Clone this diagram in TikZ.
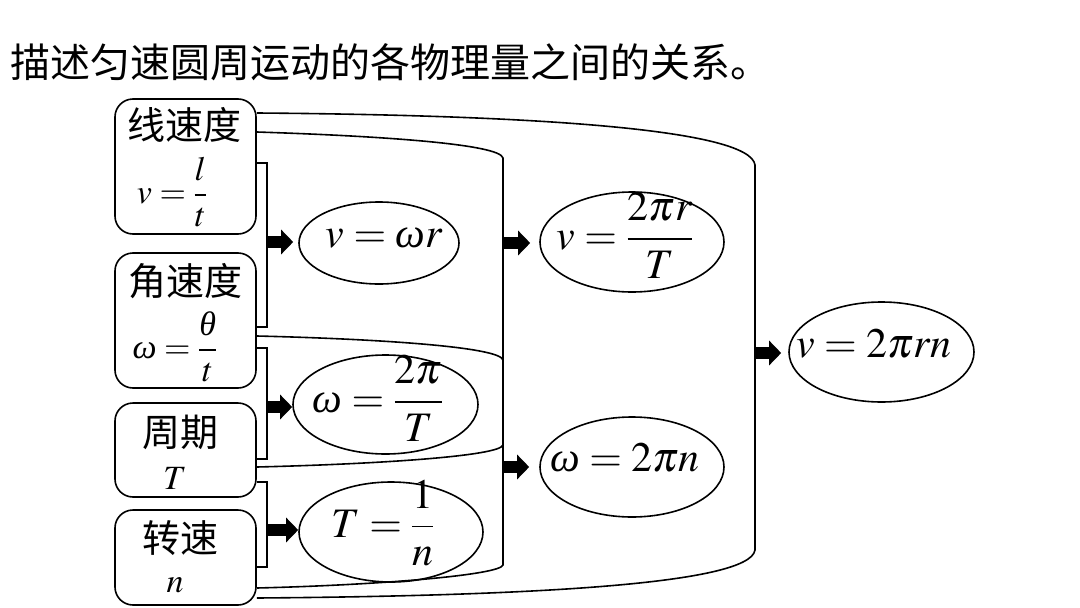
\documentclass[tikz,border=0pt]{standalone}
\usepackage{amsmath}
\usepackage{mathptmx}
\usepackage[no-math]{fontspec}
\setmainfont{Liberation Serif}
\newfontfamily\cjk{Noto Sans CJK SC}
\newcommand{\itom}{\mathord{\text{\itshape ω}}}
\newcommand{\itth}{\mathord{\text{\itshape θ}}}
\usetikzlibrary{shapes.geometric,arrows.meta}
\tikzset{
  ln/.style={line width=1.6pt},
  qbox/.style={draw, line width=1.6pt, rounded corners=18pt, minimum width=141pt, inner sep=0pt},
  ell/.style={draw, ellipse, line width=1.6pt, inner sep=0pt},
  fat/.style={line width=12pt, -{Triangle[length=12pt,width=24pt]}},
  zh/.style={font=\cjk\fontsize{38}{40}\selectfont, inner sep=0pt},
  bf/.style={font=\fontsize{34}{40}\selectfont, inner sep=0pt},
  ef/.style={font=\fontsize{42}{50}\selectfont, inner sep=0pt},
}
\begin{document}
\begin{tikzpicture}[x=1pt,y=-1pt]
\useasboundingbox (0,0) rectangle (1080,608);
\node[inner sep=0pt, font=\cjk\fontsize{40}{44}\selectfont, anchor=west] (title) at (10,62) {描述匀速圆周运动的各物理量之间的关系。};

% boxes
\node[qbox, minimum height=135pt] (b1) at (185.5,166.5) {};
\node[qbox, minimum height=135pt] (b2) at (185.5,320.5) {};
\node[qbox, minimum height=94pt] (b3) at (185.5,450) {};
\node[qbox, minimum height=95pt] (b4) at (185.5,557.5) {};

\node[zh] (t1) at (184,125) {线速度};
\node[bf] (m1) at (172,192) {$v=\dfrac{l}{t}$};
\node[zh] (t2) at (185,281) {角速度};
\node[bf] (m2) at (175,347) {$\itom=\dfrac{\itth}{t}$};
\node[zh] (t3) at (180,432) {周期};
\node[bf] (m3) at (175,478) {$T$};
\node[zh] (t4) at (180,538) {转速};
\node[bf] (m4) at (175,585) {$n$};

% ellipses
\node[ell, minimum width=160pt, minimum height=82pt] (e1) at (379,243) {};
\node[ef] (f1) at (384,238) {$v=\itom r$};
\node[ell, minimum width=185pt, minimum height=99pt] (e2) at (385.5,404.5) {};
\node[ef] (f2) at (378,398.5) {$\itom=\dfrac{2\pi}{T}$};
\node[ell, minimum width=184pt, minimum height=100pt] (e3) at (391,532) {};
\node[ef] (f3) at (383,523.5) {$T=\dfrac{1}{n}$};
\node[ell, minimum width=184pt, minimum height=100pt] (e4) at (632,242) {};
\node[ef] (f4) at (625,235.5) {$v=\dfrac{2\pi r}{T}$};
\node[ell, minimum width=184pt, minimum height=100pt] (e5) at (632,467) {};
\node[ef] (f5) at (625,458) {$\itom=2\pi n$};
\node[ell, minimum width=185pt, minimum height=100pt] (e6) at (881.5,352) {};
\node[ef] (f6) at (874,343.5) {$v=2\pi rn$};

% small brackets
\coordinate (k1) at (267,242);
\coordinate (k2) at (267,407);
\coordinate (k3) at (267,530);
\draw[ln] (b1.east |- 0,163) -- (267,163) -- (267,327) -- (b2.east |- 0,327);
\draw[ln] (b2.east |- 0,348) -- (267,348) -- (267,459) -- (b3.east |- 0,459);
\draw[ln] (b3.east |- 0,482) -- (267,482) -- (267,567) -- (b4.east |- 0,567);
\draw[fat, shorten >=5pt] (k1) -- (k1 -| e1.west);
\draw[fat] (k2) -- (k2 -| e2.west);
\draw[fat] (k3) -- (k3 -| e3.west);

% curved brackets
\draw[ln] (b1.east |- 0,132) .. controls (380,136) and (500,144) .. (503,158)
  -- (503,445) .. controls (500,456) and (380,464) .. (b3.east |- 0,467);
\draw[ln] (b2.east |- 0,336) .. controls (380,339) and (500,347) .. (503,360)
  -- (503,565) .. controls (500,575) and (380,585) .. (b4.east |- 0,588);
\draw[ln] (b1.east |- 0,113) .. controls (520,115) and (750,128) .. (755,165)
  -- (755,550) .. controls (750,585) and (520,596) .. (b4.east |- 0,598);

\coordinate (kA) at (503,243);
\coordinate (kB) at (503,467);
\coordinate (kC) at (755,353);
\draw[fat, shorten >=9pt] (kA) -- (kA -| e4.west);
\draw[fat, shorten >=10pt] (kB) -- (kB -| e5.west);
\draw[fat, shorten >=7pt] (kC) -- (kC -| e6.west);
\end{tikzpicture}
\end{document}
